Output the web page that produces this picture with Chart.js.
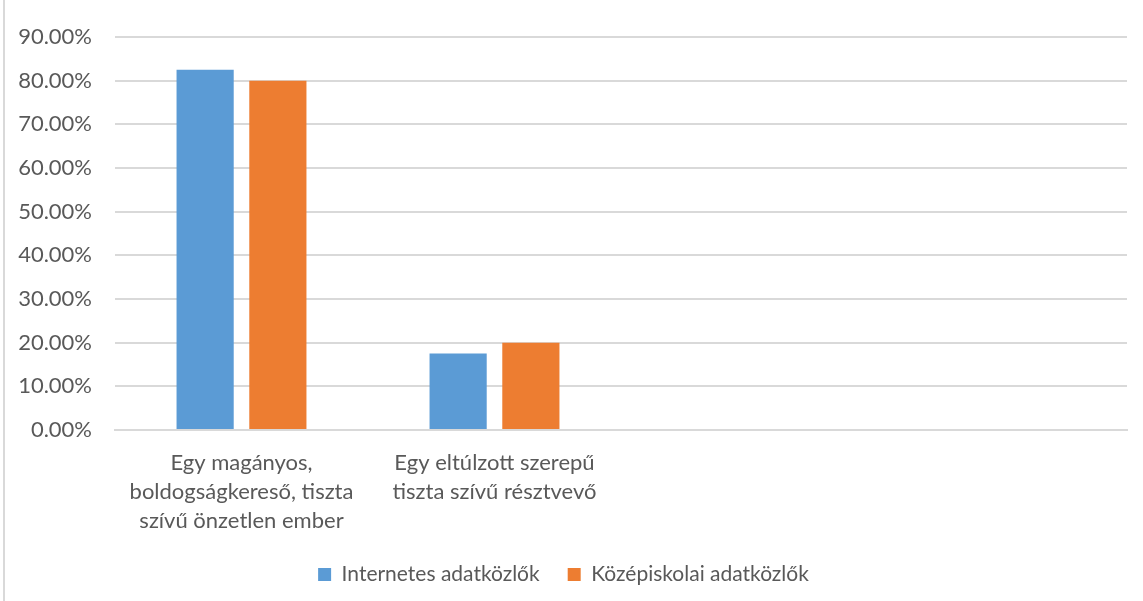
<!DOCTYPE html>
<html>
<head>
<meta charset="utf-8">
<script src="https://cdn.jsdelivr.net/npm/chart.js@4.4.1/dist/chart.umd.min.js"></script>
<style>
  html, body { margin: 0; padding: 0; background: #fff; }
  #wrap { position: relative; width: 1143px; height: 601px; }
  #edge { position: absolute; left: 3px; top: 0; width: 2px; height: 601px; background: #d9d9d9; }
  canvas { position: absolute; left: 0; top: 0; }
</style>
</head>
<body>
<div id="wrap">
  <canvas id="c" width="1143" height="601"></canvas>
  <div id="edge"></div>
</div>
<script>
const categories = [
  ["Egy magányos,", "boldogságkereső, tiszta", "szívű önzetlen ember"],
  ["Egy eltúlzott szerepű", "tiszta szívű résztvevő"],
  "",
  ""
];
const seriesNames = ["Internetes adatközlők", "Középiskolai adatközlők"];
const internetes = [0.825, 0.175, null, null];
const kozepiskolai = [0.80, 0.20, null, null];
const yTicks = [0, 0.1, 0.2, 0.3, 0.4, 0.5, 0.6, 0.7, 0.8, 0.9];

const FONT = "Lato, 'Open Sans', sans-serif";
const TXT = "#595959";
const GRID = "#d9d9d9";

new Chart(document.getElementById("c"), {
  type: "bar",
  data: {
    labels: categories,
    datasets: [
      { label: seriesNames[0], data: internetes, backgroundColor: "#5B9BD5",
        categoryPercentage: 0.575, barPercentage: 0.786 },
      { label: seriesNames[1], data: kozepiskolai, backgroundColor: "#ED7D31",
        categoryPercentage: 0.575, barPercentage: 0.786 }
    ]
  },
  options: {
    responsive: false,
    animation: false,
    layout: { padding: { top: 37, right: 16, left: 0, bottom: 6 } },
    plugins: {
      title: { display: false },
      tooltip: { enabled: false },
      legend: {
        position: "bottom",
        labels: {
          color: TXT,
          font: { family: FONT, size: 21 },
          boxWidth: 13, boxHeight: 13,
          padding: 28
        }
      }
    },
    scales: {
      x: {
        grid: { display: false, drawTicks: false },
        border: { display: true, color: GRID, width: 2 },
        ticks: {
          color: TXT,
          font: { family: FONT, size: 22, lineHeight: 1.32 },
          padding: 18,
          maxRotation: 0,
          autoSkip: false
        },
        afterFit(scale) { scale.height = 106; }
      },
      y: {
        min: 0, max: 0.9,
        afterBuildTicks(scale) { scale.ticks = yTicks.map(v => ({ value: v })); },
        grid: { color: GRID, lineWidth: 2, drawTicks: false },
        border: { display: false },
        ticks: {
          color: TXT,
          font: { family: FONT, size: 22 },
          padding: 23,
          callback: v => (v * 100).toFixed(2) + "%"
        },
        afterFit(scale) { scale.width = 115; }
      }
    }
  }
});
</script>
</body>
</html>
